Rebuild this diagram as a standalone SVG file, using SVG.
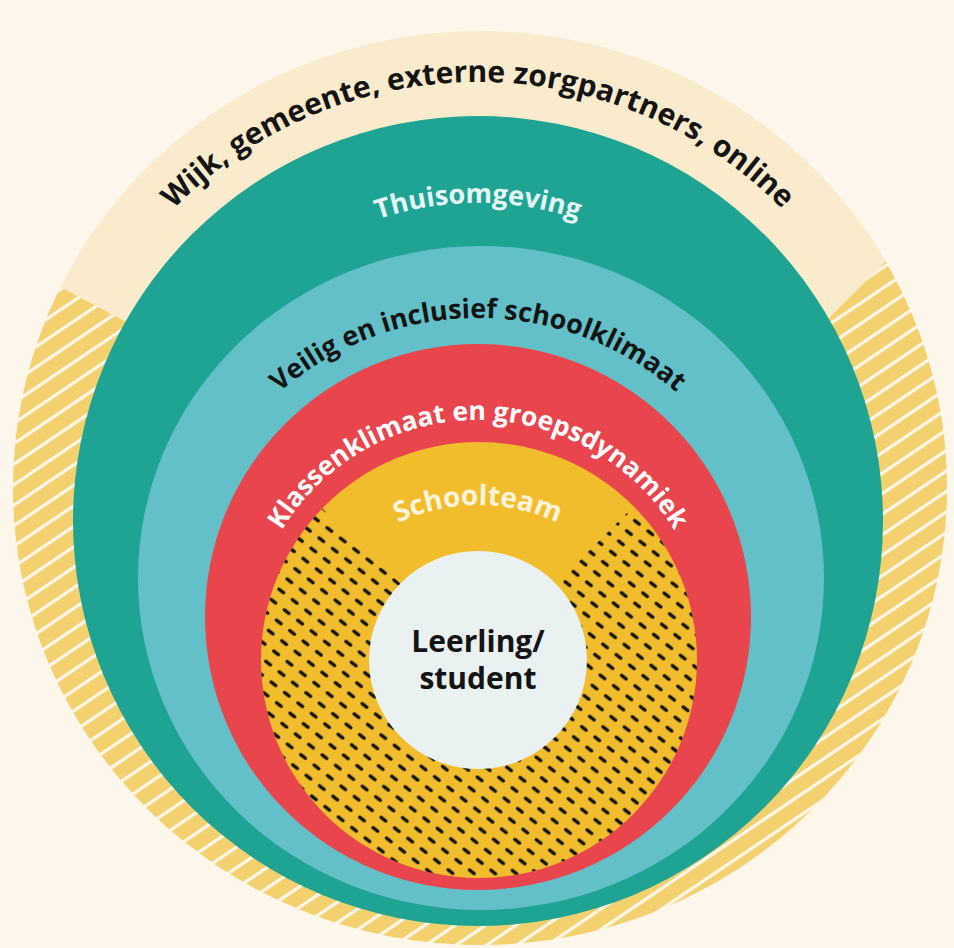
<svg xmlns="http://www.w3.org/2000/svg" width="954" height="948" viewBox="0 0 954 948">
<style>
.t{font-family:"Open Sans","Noto Sans","Liberation Sans",sans-serif;font-weight:700;}
.dark{fill:#141414;}
.light{fill:#e4f6f5;}
.white{fill:#ffffff;}
.cream{fill:#fdf3dc;}
</style>
<defs>
<pattern id="stripes" patternUnits="userSpaceOnUse" width="17" height="17" patternTransform="rotate(-34)">
<rect width="17" height="17" fill="#f4d16f"/>
<rect width="17" height="3.2" fill="#fdf7eb"/>
</pattern>
<pattern id="dashes" patternUnits="userSpaceOnUse" width="17" height="13" patternTransform="rotate(38)">
<line x1="4.5" y1="6.5" x2="10.5" y2="6.5" stroke="#161616" stroke-width="3.3" stroke-linecap="round"/>
</pattern>
<clipPath id="outerHatch"><polygon points="0,255 583,564 954,193 954,948 0,948"/></clipPath>
<clipPath id="innerHatch"><polygon points="150,343 480,660 810,330 810,900 150,900"/></clipPath>
<path id="arc1" d="M 50 510 A 428 428 0 0 1 906 510"/>
<path id="arc2" d="M 160 521 A 318 318 0 0 1 796 521"/>
<path id="arc3" d="M 176 620 A 302 302 0 0 1 780 620"/>
<path id="arc4" d="M 248 650 A 230 230 0 0 1 708 650"/>
<path id="arc5" d="M 293 690 A 185 185 0 0 1 663 690"/>
</defs>
<rect width="954" height="948" fill="#fdf7eb"/>
<g id="outer">
<ellipse cx="480" cy="488" rx="467" ry="457" fill="#f9ebcb"/>
<ellipse cx="480" cy="488" rx="467" ry="457" fill="url(#stripes)" clip-path="url(#outerHatch)"/>
<text class="t dark" font-size="30"><textPath href="#arc1" startOffset="50%" text-anchor="middle">Wijk, gemeente, externe zorgpartners, online</textPath></text>
</g>
<g id="thuisomgeving">
<circle cx="478" cy="521" r="405" fill="#1fa393"/>
<text class="t light" font-size="27"><textPath href="#arc2" startOffset="50%" text-anchor="middle">Thuisomgeving</textPath></text>
</g>
<g id="schoolklimaat">
<ellipse cx="481" cy="578" rx="343" ry="332" fill="#63c0c8"/>
<text class="t dark" font-size="27"><textPath href="#arc3" startOffset="50%" text-anchor="middle">Veilig en inclusief schoolklimaat</textPath></text>
</g>
<g id="klassenklimaat">
<circle cx="478" cy="617" r="273" fill="#e8454d"/>
<text class="t white" font-size="26.5"><textPath href="#arc4" startOffset="50%" text-anchor="middle">Klassenklimaat en groepsdynamiek</textPath></text>
</g>
<g id="schoolteam">
<circle cx="479" cy="660" r="218" fill="#f2bd2c"/>
<circle cx="479" cy="660" r="218" fill="url(#dashes)" clip-path="url(#innerHatch)"/>
<text class="t cream" font-size="28"><textPath href="#arc5" startOffset="50%" text-anchor="middle">Schoolteam</textPath></text>
</g>
<g id="leerling">
<circle cx="478" cy="660" r="109" fill="#e9f1f1"/>
<text class="t dark" font-size="30" text-anchor="middle"><tspan x="478" y="652">Leerling/</tspan><tspan x="478" y="689">student</tspan></text>
</g>
</svg>
